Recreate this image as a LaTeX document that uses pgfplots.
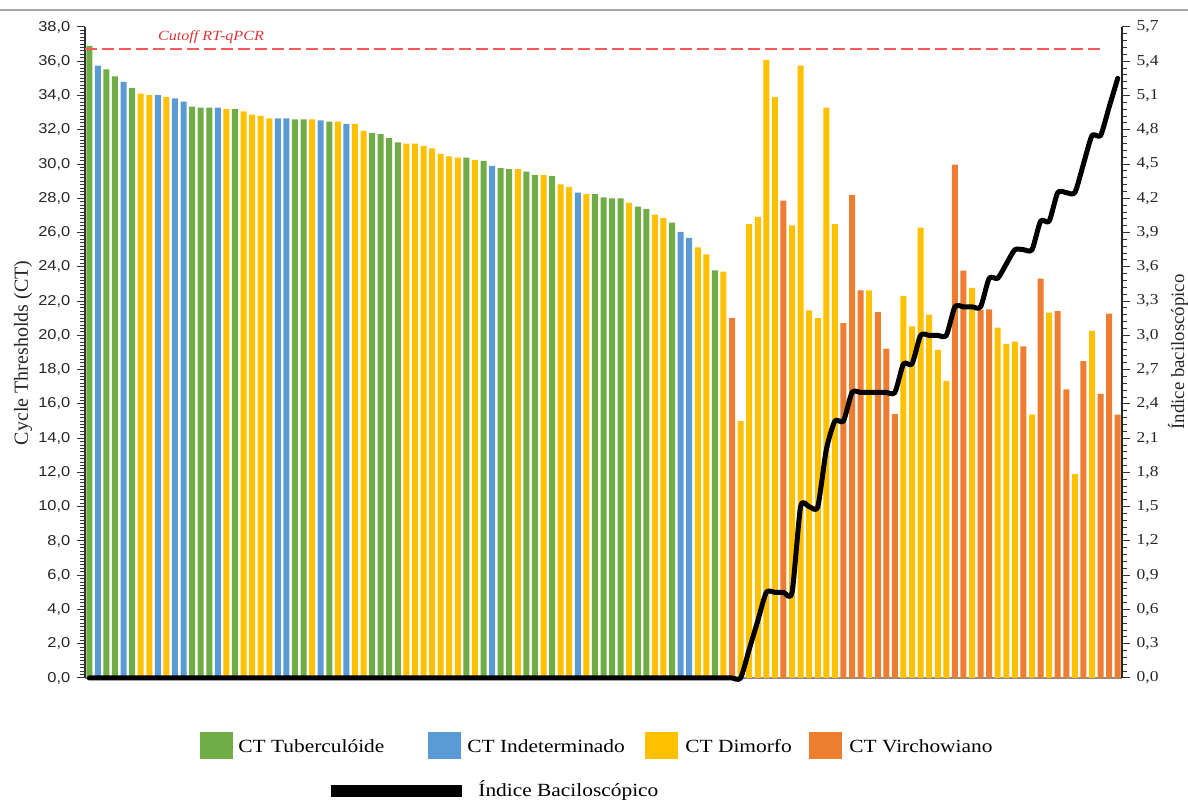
\documentclass[border=0pt]{standalone}
\usepackage{pgfplots}
\pgfplotsset{compat=1.18}
\usepackage{pgfplotstable}
\usepackage{fontspec}
\setmainfont{Liberation Serif}
\newfontfamily\serifH[FakeStretch=1.15]{Liberation Serif}
\newfontfamily\sansH[FakeStretch=1.15]{Liberation Sans}
\definecolor{cgreen}{HTML}{70AD47}
\definecolor{cblue}{HTML}{5B9BD5}
\definecolor{cyellow}{HTML}{FFC000}
\definecolor{corange}{HTML}{ED7D31}
\definecolor{ccut}{HTML}{FF5A5A}
\definecolor{ccuttext}{HTML}{E0353A}

\pgfplotstableread{
x y
1 36.9
3 35.53
4 35.12
6 34.44
13 33.35
14 33.29
15 33.29
18 33.21
25 32.61
26 32.61
29 32.47
34 31.8
35 31.74
36 31.52
37 31.27
45 30.37
47 30.18
49 29.76
50 29.7
52 29.56
53 29.35
55 29.29
60 28.25
61 28.06
62 28.0
63 28.0
65 27.52
66 27.38
69 26.58
74 23.8
}\tubdata

\pgfplotstableread{
x y
2 35.75
5 34.79
9 34.03
11 33.84
12 33.65
16 33.29
23 32.67
24 32.67
28 32.55
31 32.34
48 29.89
58 28.33
70 26.04
71 25.69
}\inddata

\pgfplotstableread{
x y
7 34.11
8 34.03
10 33.9
17 33.21
19 33.08
20 32.88
21 32.81
22 32.67
27 32.61
30 32.47
32 32.34
33 31.93
38 31.19
39 31.19
40 31.06
41 30.92
42 30.59
43 30.45
44 30.37
46 30.24
51 29.7
54 29.35
56 28.82
57 28.66
59 28.25
64 27.73
67 27.05
68 26.85
72 25.14
73 24.73
75 23.72
77 15.0
78 26.5
79 26.91
80 36.08
81 33.9
83 26.42
84 35.75
85 21.46
86 21.0
87 33.29
88 26.5
92 22.63
96 22.3
97 20.53
98 26.29
99 21.21
100 19.15
101 17.35
104 22.77
107 20.45
108 19.5
109 19.63
111 15.37
113 21.33
116 11.9
118 20.26
}\dimdata

\pgfplotstableread{
x y
76 21.0
82 27.87
89 20.72
90 28.2
91 22.63
93 21.35
94 19.23
95 15.4
102 29.97
103 23.78
105 21.48
106 21.52
110 19.36
112 23.31
114 21.41
115 16.85
117 18.5
119 16.58
120 21.27
121 15.37
}\virdata

\pgfplotstableread{
x ib
1 0
2 0
3 0
4 0
5 0
6 0
7 0
8 0
9 0
10 0
11 0
12 0
13 0
14 0
15 0
16 0
17 0
18 0
19 0
20 0
21 0
22 0
23 0
24 0
25 0
26 0
27 0
28 0
29 0
30 0
31 0
32 0
33 0
34 0
35 0
36 0
37 0
38 0
39 0
40 0
41 0
42 0
43 0
44 0
45 0
46 0
47 0
48 0
49 0
50 0
51 0
52 0
53 0
54 0
55 0
56 0
57 0
58 0
59 0
60 0
61 0
62 0
63 0
64 0
65 0
66 0
67 0
68 0
69 0
70 0
71 0
72 0
73 0
74 0
75 0
76 0
77 0
78 0.25
79 0.5
80 0.75
81 0.75
82 0.75
83 0.75
84 1.5
85 1.5
86 1.5
87 2.0
88 2.25
89 2.25
90 2.5
91 2.5
92 2.5
93 2.5
94 2.5
95 2.5
96 2.75
97 2.75
98 3.0
99 3.0
100 3.0
101 3.0
102 3.25
103 3.25
104 3.25
105 3.25
106 3.5
107 3.5
108 3.625
109 3.75
110 3.75
111 3.75
112 4.0
113 4.0
114 4.25
115 4.25
116 4.25
117 4.5
118 4.75
119 4.75
120 5.0
121 5.25
}\ibdata

\begin{document}
\begin{tikzpicture}
\useasboundingbox (0,0) rectangle (594pt,400.5pt);
\draw[black!35, line width=0.6pt] (0,395.5pt) -- (594pt,395.5pt);

\begin{axis}[
  at={(42.5pt,61.5pt)}, anchor=south west,
  width=518.5pt, height=325.5pt, scale only axis,
  xmin=0.5, xmax=121.5, ymin=0, ymax=38,
  axis x line*=bottom, axis y line*=left,
  axis line style={-},
  x axis line style={black!45, line width=0.6pt},
  y axis line style={black!80, line width=0.6pt},
  xtick=\empty,
  ytick={0,2,...,38},
  minor y tick num=9,
  tick align=outside,
  major tick length=3.8pt, minor tick length=2.5pt,
  every tick/.style={black!80, line width=0.5pt},
  yticklabel style={font=\fontsize{7.15}{8}\selectfont\sansH, text=black!85,
    /pgf/number format/fixed, /pgf/number format/fixed zerofill,
    /pgf/number format/precision=1, /pgf/number format/use comma,
    /pgf/number format/assume math mode=true},
  ybar, bar width=3pt,
]
\addplot[ybar, bar shift=0pt, fill=cgreen, draw=none] table[x=x,y=y] {\tubdata};
\addplot[ybar, bar shift=0pt, fill=cblue, draw=none] table[x=x,y=y] {\inddata};
\addplot[ybar, bar shift=0pt, fill=cyellow, draw=none] table[x=x,y=y] {\dimdata};
\addplot[ybar, bar shift=0pt, fill=corange, draw=none] table[x=x,y=y] {\virdata};
\addplot[sharp plot, ccut, line width=1pt, dash pattern=on 6pt off 2.5pt] coordinates {(0.5,36.7) (119,36.7)};
\end{axis}

\begin{axis}[
  at={(42.5pt,61.5pt)}, anchor=south west,
  width=518.5pt, height=325.5pt, scale only axis,
  xmin=0.5, xmax=121.5, ymin=0, ymax=5.7,
  axis x line=none, axis y line*=right,
  axis line style={-, black!85, line width=0.6pt},
  xtick=\empty,
  ytick={0,0.3,0.6,0.9,1.2,1.5,1.8,2.1,2.4,2.7,3.0,3.3,3.6,3.9,4.2,4.5,4.8,5.1,5.4,5.7},
  minor y tick num=4,
  tick align=outside,
  major tick length=3.8pt, minor tick length=2.5pt,
  every tick/.style={black!80, line width=0.5pt},
  yticklabel style={font=\fontsize{7.6}{8}\selectfont\serifH, text=black!85,
    /pgf/number format/fixed, /pgf/number format/fixed zerofill,
    /pgf/number format/precision=1, /pgf/number format/use comma,
    /pgf/number format/assume math mode=true},
  clip=false,
]
\addplot[smooth, tension=0.4, black, line width=2.5pt, line cap=round, line join=round] table[x=x,y=ib] {\ibdata};
\end{axis}

% axis titles
\node[rotate=90, font=\fontsize{10}{12}\selectfont, text=black!85] at (11.5pt,224pt) {Cycle Thresholds (CT)};
\node[rotate=90, font=\fontsize{9.4}{11}\selectfont, text=black!85] at (589pt,224.5pt) {Índice baciloscópico};
\node[font=\fontsize{7}{8}\selectfont\serifH\itshape, text=ccuttext] at (105.5pt,382pt) {Cutoff RT-qPCR};

% legend
\fill[cgreen] (100pt,20.75pt) rectangle (116.5pt,34.25pt);
\node[anchor=west, inner sep=0pt, font=\fontsize{9.3}{11}\selectfont\serifH] at (119pt,27.5pt) {CT Tuberculóide};
\fill[cblue] (214pt,20.75pt) rectangle (230.5pt,34.25pt);
\node[anchor=west, inner sep=0pt, font=\fontsize{9.3}{11}\selectfont\serifH] at (233.5pt,27.5pt) {CT Indeterminado};
\fill[cyellow] (322.5pt,20.75pt) rectangle (339pt,34.25pt);
\node[anchor=west, inner sep=0pt, font=\fontsize{9.3}{11}\selectfont\serifH] at (342.5pt,27.5pt) {CT Dimorfo};
\fill[corange] (404.5pt,20.75pt) rectangle (421pt,34.25pt);
\node[anchor=west, inner sep=0pt, font=\fontsize{9.3}{11}\selectfont\serifH] at (424.5pt,27.5pt) {CT Virchowiano};
\fill[black] (165.5pt,2pt) rectangle (231pt,8pt);
\node[anchor=west, inner sep=0pt, font=\fontsize{9.3}{11}\selectfont\serifH] at (239pt,5pt) {Índice Baciloscópico};
\end{tikzpicture}
\end{document}
